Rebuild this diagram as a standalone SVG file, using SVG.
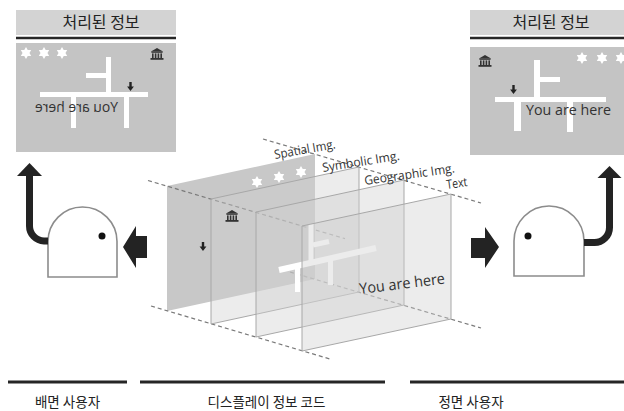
<svg xmlns="http://www.w3.org/2000/svg" width="624" height="411" viewBox="0 0 624 411">
  <style>
    .kr { font-family: "Noto Sans CJK KR", "Noto Sans", sans-serif; fill: #222; }
    .en { font-family: "Open Sans", "Liberation Sans", sans-serif; fill: #333; }
    .hdr { fill: #d3d3d3; }
    .hdrline { stroke: #262626; stroke-width: 2.5; }
    .panel { fill: #c4c4c4; }
    .road { fill: #ffffff; }
    .guide { stroke: #7a7a7a; stroke-width: 1.2; stroke-dasharray: 4 3; fill: none; }
    .layer { fill: #cfcfcf; fill-opacity: 0.4; stroke: #a8a8a8; stroke-width: 1; }
    .head { fill: #ffffff; stroke: #8c8c8c; stroke-width: 1.6; }
    .turn { fill: none; stroke: #232323; stroke-width: 7; }
    .dark { fill: #232323; }
    .rule { stroke: #262626; stroke-width: 3; }
  </style>
  <defs>
    <polygon id="star" fill="#ffffff" points="0,-6 1.73,-3 5.2,-3 3.46,0 5.2,3 1.73,3 0,6 -1.73,3 -5.2,3 -3.46,0 -5.2,-3 -1.73,-3"/>
    <g id="museum" fill="#333333">
      <polygon points="-6,-2.6 0,-6 6,-2.6"/>
      <rect x="-5.6" y="-2.6" width="11.2" height="1.4"/>
      <rect x="-5" y="-0.6" width="1.6" height="4.6"/>
      <rect x="-2.2" y="-0.6" width="1.6" height="4.6"/>
      <rect x="0.6" y="-0.6" width="1.6" height="4.6"/>
      <rect x="3.4" y="-0.6" width="1.6" height="4.6"/>
      <rect x="-6.5" y="4" width="13" height="1.8"/>
    </g>
    <path id="down" fill="#222222" d="M-1.2,-5 h2.4 v4.5 h2.2 l-3.4,4.5 l-3.4,-4.5 h2.2 z"/>
  </defs>

  <!-- processed info seen from the back (mirrored) -->
  <g id="panel-back">
    <rect class="hdr" x="16" y="10" width="160" height="25"/>
    <text class="kr" x="101" y="28" font-size="16" text-anchor="middle">처리된 정보</text>
    <line class="hdrline" x1="16" y1="38" x2="176" y2="38"/>
    <rect class="panel" x="16" y="43" width="160" height="109"/>
    <use href="#star" x="26" y="53"/>
    <use href="#star" x="44" y="53"/>
    <use href="#star" x="62" y="53"/>
    <use href="#museum" x="157" y="54"/>
    <rect class="road" x="106" y="57" width="5" height="40"/>
    <rect class="road" x="86" y="73" width="20" height="5"/>
    <rect class="road" x="40" y="92" width="108" height="5"/>
    <rect class="road" x="71" y="97" width="5" height="31"/>
    <rect class="road" x="124" y="97" width="5" height="31"/>
    <use href="#down" x="130.5" y="87"/>
    <text class="en" transform="scale(-1,1)" x="-76.5" y="112" font-size="14" text-anchor="middle" textLength="83" lengthAdjust="spacingAndGlyphs">You are here</text>
  </g>

  <!-- processed info seen from the front -->
  <g id="panel-front">
    <rect class="hdr" x="470" y="10" width="160" height="25"/>
    <text class="kr" x="551" y="28" font-size="16" text-anchor="middle">처리된 정보</text>
    <line class="hdrline" x1="470" y1="38" x2="624" y2="38"/>
    <rect class="panel" x="470" y="47" width="160" height="108"/>
    <use href="#museum" x="485" y="61"/>
    <use href="#star" x="582" y="58"/>
    <use href="#star" x="602" y="58"/>
    <use href="#star" x="621" y="58"/>
    <rect class="road" x="534" y="60" width="6" height="38"/>
    <rect class="road" x="540" y="77" width="20" height="5"/>
    <rect class="road" x="495" y="97" width="111" height="5"/>
    <rect class="road" x="514" y="102" width="7" height="29"/>
    <rect class="road" x="567" y="102" width="6" height="30"/>
    <use href="#down" x="513.5" y="90"/>
    <text class="en" x="568.5" y="115" font-size="15" text-anchor="middle" textLength="85" lengthAdjust="spacingAndGlyphs">You are here</text>
  </g>

  <!-- stacked display layers -->
  <g id="display-layers">
    <line class="guide" x1="263" y1="139" x2="481" y2="203"/>
    <polygon points="167,186 315,154 315,279 167,311" fill="#c8c8c8"/>
    <line class="guide" x1="148" y1="180.5" x2="345" y2="238.7"/>
    <line class="guide" x1="151" y1="306" x2="330" y2="359"/>
    <line class="guide" x1="290" y1="272" x2="481" y2="328"/>
    <use href="#star" x="257" y="182"/>
    <use href="#star" x="279" y="177"/>
    <use href="#star" x="301" y="172"/>
    <use href="#down" x="203" y="247"/>
    <polygon class="layer" points="211,199 359,167 359,292 211,324"/>
    <use href="#museum" x="232" y="216"/>
    <polygon class="layer" points="256,212 404,180 404,305 256,337"/>
    <g stroke="#ffffff" fill="none" stroke-linecap="butt">
      <line x1="279" y1="270" x2="376" y2="248" stroke-width="6"/>
      <line x1="311" y1="224" x2="311" y2="263" stroke-width="5"/>
      <line x1="313" y1="245" x2="329" y2="241.5" stroke-width="5"/>
      <line x1="297.5" y1="266" x2="297.5" y2="292" stroke-width="5"/>
      <line x1="330.5" y1="258" x2="330.5" y2="285" stroke-width="5"/>
    </g>
    <polygon class="layer" points="302,226 451,194 451,319 302,351" stroke="#9a9a9a"/>
    <text class="en" transform="translate(360,294) rotate(-7)" font-size="15" textLength="86" lengthAdjust="spacingAndGlyphs">You are here</text>
    <text class="en" transform="translate(275,159) rotate(-10)" font-size="12.5" textLength="62" lengthAdjust="spacingAndGlyphs">Spatial Img.</text>
    <text class="en" transform="translate(323,172) rotate(-9)" font-size="12.5" textLength="78" lengthAdjust="spacingAndGlyphs">Symbolic Img.</text>
    <text class="en" transform="translate(365,185) rotate(-8)" font-size="12.5" textLength="91" lengthAdjust="spacingAndGlyphs">Geographic Img.</text>
    <text class="en" transform="translate(447,189) rotate(-8)" font-size="12.5" textLength="21" lengthAdjust="spacingAndGlyphs">Text</text>
  </g>

  <!-- viewer behind the display -->
  <g id="user-back">
    <path class="head" d="M48,277 V241.5 A34.5,34.5 0 0 1 117,241.5 V277 Z"/>
    <circle cx="102" cy="236" r="3.5" fill="#111"/>
  </g>

  <!-- viewer in front of the display -->
  <g id="user-front">
    <path class="head" d="M514,276 V241 A35,35 0 0 1 584,241 V276 Z"/>
    <circle cx="528" cy="236" r="3.5" fill="#111"/>
  </g>

  <g id="connectors">
    <path class="turn" d="M48,241 H44 A15,15 0 0 1 29.5,226 V174"/>
    <polygon class="dark" points="17,176 42,176 29.5,163"/>
    <path class="turn" d="M584,242.5 H594 A15,15 0 0 0 609.5,227.5 V176"/>
    <polygon class="dark" points="597.5,178 621.5,178 609.5,166"/>
    <polygon class="dark" points="123,247 136,226 136,236 147,236 147,258 136,258 136,268"/>
    <polygon class="dark" points="471,238 485,238 485,227 499,247 485,268 485,258 471,258"/>
  </g>

  <!-- captions -->
  <g id="captions">
    <line class="rule" x1="8" y1="382" x2="127" y2="382"/>
    <line class="rule" x1="140" y1="382" x2="385" y2="382"/>
    <line class="rule" x1="410" y1="382" x2="624" y2="382"/>
    <text class="kr" x="67.5" y="407" font-size="13.5" text-anchor="middle">배면 사용자</text>
    <text class="kr" x="266.5" y="407" font-size="13.5" text-anchor="middle">디스플레이 정보 코드</text>
    <text class="kr" x="471" y="407" font-size="13.5" text-anchor="middle">정면 사용자</text>
  </g>
</svg>
